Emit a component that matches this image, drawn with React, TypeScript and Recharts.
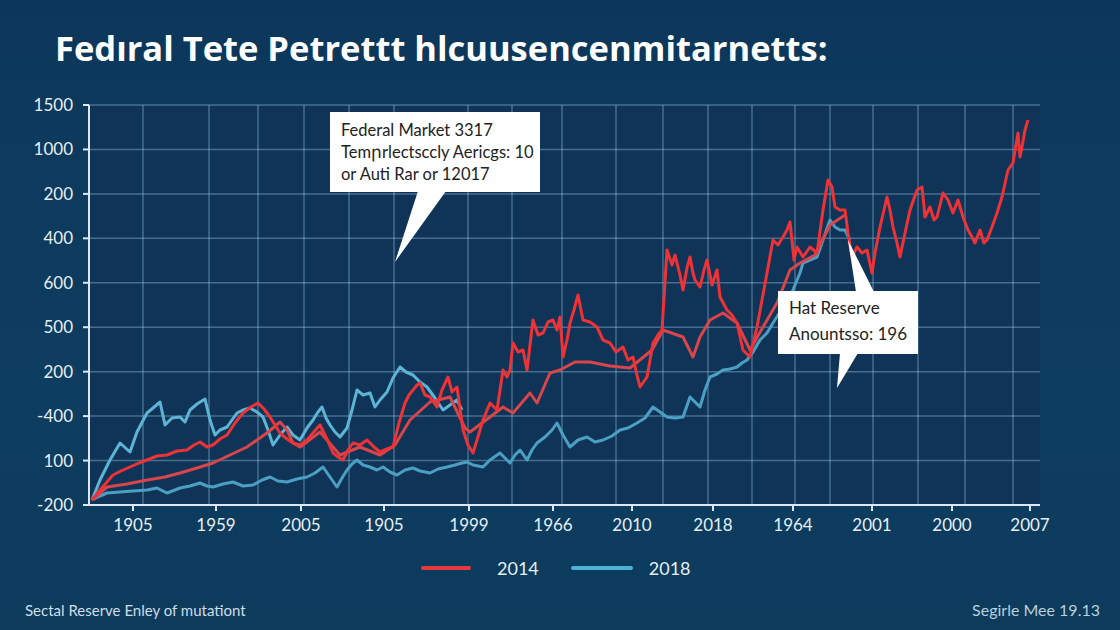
import React from 'react';
import { LineChart, Line, XAxis, YAxis, CartesianGrid, ReferenceLine } from 'recharts';

// ---- Data (x: position along time axis, y: value on left scale) ----
const red1X = [3,11,24,32,41,50,58,68,78,88,98,105,111,118,124,131,138,146,154,162,169,175,181,186,191,198,204,211,218,224,231,238,244,249,254,259,264,271,278,285,291,298,304,310,316,320,324,328,331,336,341,348,353,359,363,368,374,379,384,388,394,401,408,414,418,421,424,429,434,438,444,449,454,459,464,468,471,474,478,481,485,489,494,501,508,514,521,527,534,539,544,548,551,558,564,569,573,578,581,583,586,588,591,594,598,601,604,606,611,615,618,623,628,631,638,643,648,654,661,668,673,678,684,689,694,698,701,705,708,714,721,728,734,739,743,746,751,756,759,763,768,773,778,783,786,791,798,801,804,808,811,816,821,828,833,836,841,845,848,851,854,859,864,869,874,879,883,886,891,895,898,903,908,913,919,924,929,931,933,936,939];
const red1Y = [5,15,30,34,38,42,45,49,50,54,55,60,63,58,60,66,70,82,92,98,102,96,88,80,72,66,62,60,65,72,80,66,52,48,45,55,62,60,65,58,53,56,58,82,102,110,115,120,122,110,108,98,115,128,113,118,75,60,52,65,85,102,95,135,128,135,162,153,155,135,185,170,172,183,185,175,188,148,165,182,195,210,185,183,178,165,162,153,158,145,148,130,118,128,162,170,175,255,246,240,250,242,230,215,237,248,232,225,218,235,245,220,235,208,195,190,182,155,148,178,205,232,265,260,268,275,283,245,258,248,258,252,295,325,318,298,295,295,272,248,258,252,255,232,252,278,308,295,278,262,248,272,295,315,318,288,298,285,288,300,312,305,292,305,288,275,268,262,275,262,265,278,292,308,335,342,372,348,358,375,385];

const red2X = [3,18,38,58,76,91,108,124,141,158,168,178,191,198,204,211,231,251,271,291,306,321,341,361,376,381,401,414,424,441,448,461,471,486,501,521,541,563,574,594,604,611,621,634,648,661,674,688,701,711,726,741,756];
const red2Y = [5,18,21,25,28,32,37,42,50,58,65,72,83,75,62,58,73,50,58,50,60,85,103,108,77,73,88,98,92,112,102,132,135,143,143,139,137,155,175,168,148,168,185,192,182,155,178,202,235,242,250,280,290];

const blue1X = [3,11,21,31,41,48,58,64,71,76,83,91,96,101,108,116,121,126,131,138,143,148,154,161,168,174,179,184,191,198,204,211,218,224,229,233,237,241,246,251,258,263,268,274,281,286,291,298,304,311,317,324,331,338,346,354,361,368,373];
const blue1Y = [5,25,45,62,53,73,92,97,103,80,87,88,83,95,101,106,85,70,75,78,85,92,95,97,93,88,75,60,70,78,70,65,77,85,93,98,87,80,73,68,77,95,115,110,112,98,105,113,127,138,133,130,123,118,107,95,100,105,95];

const blue2X = [3,11,18,31,44,58,68,78,86,91,101,111,118,124,134,144,154,164,173,181,189,198,208,218,226,234,241,248,253,258,263,268,274,281,288,294,301,308,316,324,331,341,349,358,366,373,378,384,394,401,411,416,421,426,431,438,443,448,456,463,468,474,481,489,498,506,514,523,531,539,548,556,564,571,578,586,594,601,606,611,616,621,628,634,641,648,653,658,664,671,678,684,691,701,706,711,714,721,728,734,741,746,751,756,761];
const blue2Y = [5,9,12,13,14,15,17,12,15,17,19,22,19,18,21,23,19,20,25,28,24,23,26,28,32,38,28,18,27,35,41,45,40,38,35,38,33,30,35,37,34,32,36,38,40,42,43,40,38,45,52,47,42,50,55,45,55,62,68,75,82,70,58,65,68,63,65,69,75,77,82,87,98,93,88,87,88,108,103,98,115,128,131,135,136,138,142,145,153,165,172,182,193,208,220,232,242,245,248,265,285,278,275,275,265];

// ---- Axis labels ----
const xTickPos = [44,127,212,295,380,464,543,624,704,783,863,941];
const xLabels = ['1905','1959','2005','1905','1999','1966','2010','2018','1964','2001','2000','2007'];
const gridXs = [54,120,169,215,260,305,379,423,473,527,574,619,663,706,741,784,829,876,924];
const leftLabels = ['-200','100','-400','200','500','600','400','200','1000','1500'];
const rightLabels = ['00','210','200','470','450','560','650','720','350','250'];
const yTicks = leftLabels.map((_, i) => (i * 400) / 9);

const legendItems = [
  { name: '2014', color: '#e5393c' },
  { name: '2018', color: '#4fb0d6' },
];

const toPts = (xs: number[], ys: number[]) => xs.map((x, i) => ({ x, y: ys[i] }));

const series = [
  { key: 'b2', data: toPts(blue2X, blue2Y), color: '#4b9fc3', width: 3 },
  { key: 'b1', data: toPts(blue1X, blue1Y), color: '#5db4d4', width: 3 },
  { key: 'r2', data: toPts(red2X, red2Y), color: '#d8454a', width: 3 },
  { key: 'r1', data: toPts(red1X, red1Y), color: '#ee3236', width: 3 },
];

const tickFont = { fill: '#e6eef4', fontSize: 17, fontFamily: 'Lato, sans-serif' };
const gridStroke = 'rgba(160,205,235,0.38)';

export default function App() {
  return (
    <div
      style={{
        position: 'absolute',
        left: 0,
        top: 0,
        width: 1120,
        height: 630,
        overflow: 'hidden',
        background: 'linear-gradient(180deg, #0c375a 0%, #0d3d60 60%, #0c3b5c 100%)',
        fontFamily: 'Lato, sans-serif',
      }}
    >
      <div
        style={{
          position: 'absolute',
          left: 55,
          top: 24,
          fontSize: 34.5,
          fontWeight: 700,
          color: '#ffffff',
          whiteSpace: 'nowrap',
          fontFamily: "'Open Sans', sans-serif",
          letterSpacing: 0,
        }}
      >
        Fedıral Tete Petrettt hlcuusencenmitarnetts:
      </div>

      <div style={{ position: 'absolute', left: 0, top: 0 }}>
        <LineChart width={1120} height={630} margin={{ top: 105, right: 0, bottom: 85, left: 0 }}>
          <CartesianGrid
            yAxisId="left"
            vertical={false}
            fill="#0f3457"
            stroke={gridStroke}
            strokeWidth={1.5}
          />
          <XAxis
            type="number"
            dataKey="x"
            domain={[0, 951]}
            ticks={xTickPos}
            interval={0}
            height={40}
            tickFormatter={(_v: number, i: number) => xLabels[i]}
            tick={tickFont}
            tickSize={6}
            tickMargin={8}
            axisLine={{ stroke: '#dde9f1', strokeWidth: 2 }}
            tickLine={{ stroke: '#dde9f1', strokeWidth: 2 }}
          />
          <YAxis
            yAxisId="left"
            type="number"
            domain={[0, 400]}
            ticks={yTicks}
            interval={0}
            width={89}
            tickFormatter={(_v: number, i: number) => leftLabels[i]}
            tick={tickFont}
            tickSize={6}
            tickMargin={10}
            axisLine={{ stroke: '#dde9f1', strokeWidth: 2 }}
            tickLine={{ stroke: '#dde9f1', strokeWidth: 2 }}
          />
          <YAxis
            yAxisId="right"
            orientation="right"
            type="number"
            domain={[0, 400]}
            ticks={yTicks}
            interval={0}
            width={80}
            tickFormatter={(_v: number, i: number) => rightLabels[i]}
            tick={tickFont}
            tickSize={-7}
            tickMargin={15}
            axisLine={false}
            tickLine={{ stroke: '#c9dbe7', strokeWidth: 1.5 }}
          />
          {gridXs.map((gx) => (
            <ReferenceLine key={'g' + gx} x={gx} yAxisId="left" stroke={gridStroke} strokeWidth={1.5} />
          ))}
          {series.map((s) => (
            <Line
              key={s.key}
              yAxisId="left"
              data={s.data}
              dataKey="y"
              type="linear"
              stroke={s.color}
              strokeWidth={s.width}
              strokeLinejoin="round"
              dot={false}
              activeDot={false}
              isAnimationActive={false}
            />
          ))}
        </LineChart>
      </div>

      {/* Annotations */}
      <svg width={1120} height={630} style={{ position: 'absolute', left: 0, top: 0, pointerEvents: 'none' }}>
        <rect x={330} y={112} width={210} height={80} fill="#ffffff" />
        <polygon points="418,191 446,191 395,262" fill="#ffffff" />
        <text x={341} y={136} fontSize={16.5} fill="#222" fontFamily="Lato, sans-serif">Federal Market 3317</text>
        <text x={341} y={158} fontSize={16.5} fill="#222" fontFamily="Lato, sans-serif">Temրrlectsccly Aericgs: 10</text>
        <text x={341} y={180} fontSize={16.5} fill="#222" fontFamily="Lato, sans-serif">or Auti Rar or  12017</text>

        <rect x={778} y={291} width={140} height={63} fill="#ffffff" />
        <polygon points="856,292 874,292 848,240" fill="#ffffff" />
        <polygon points="840,353 858,353 837,388" fill="#ffffff" />
        <text x={789} y={314} fontSize={17} fill="#222" fontFamily="Lato, sans-serif">Hat Reserve</text>
        <text x={789} y={340} fontSize={17} fill="#222" fontFamily="Lato, sans-serif">Anountsso: 196</text>
      </svg>

      {/* Legend */}
      <div style={{ position: 'absolute', left: 421, top: 557, display: 'flex', alignItems: 'center' }}>
        {legendItems.map((it, i) => (
          <div key={it.name} style={{ display: 'flex', alignItems: 'center', marginRight: i === 0 ? 32 : 0 }}>
            <div style={{ width: i === 0 ? 50 : 62, height: 4, background: it.color, borderRadius: 2 }} />
            <span style={{ marginLeft: i === 0 ? 26 : 16, fontSize: 18, color: '#e6eef4' }}>{it.name}</span>
          </div>
        ))}
      </div>

      {/* Footer */}
      <div style={{ position: 'absolute', left: 25, top: 601, fontSize: 15, color: '#cfdde8' }}>
        Sectal Reserve Enley of mutationt
      </div>
      <div style={{ position: 'absolute', right: 20, top: 600, fontSize: 16, color: '#b9cfdd' }}>
        Segirle Mee 19.13
      </div>
    </div>
  );
}
